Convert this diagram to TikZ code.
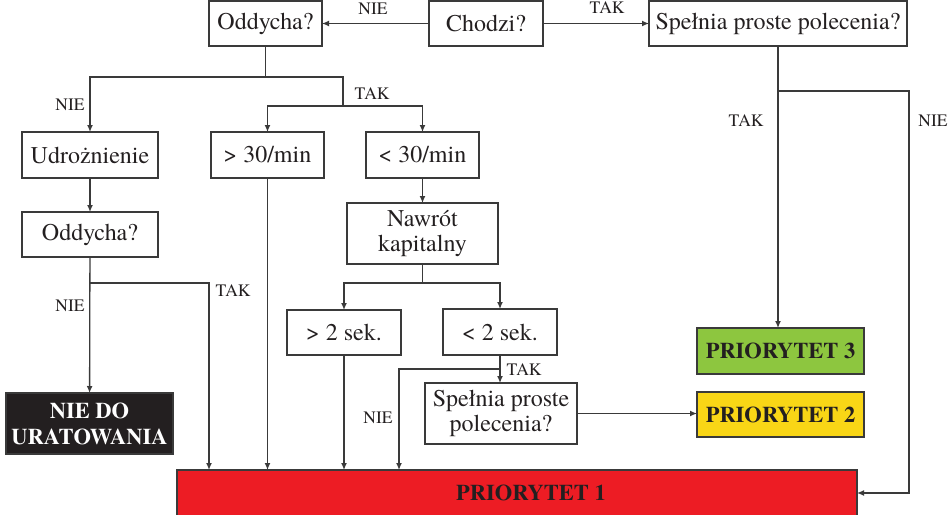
\documentclass[tikz,border=0pt]{standalone}
\usepackage{fontspec}
\setmainfont{texgyretermes}[Extension=.otf, UprightFont=*-regular, BoldFont=*-bold, ItalicFont=*-italic, BoldItalicFont=*-bolditalic]
\usetikzlibrary{arrows.meta}
\definecolor{ink}{HTML}{231F20}
\definecolor{wire}{HTML}{3A3A3A}
\definecolor{prio1}{HTML}{ED1C24}
\definecolor{prio2}{HTML}{F9D616}
\definecolor{prio3}{HTML}{8DC63F}
\begin{document}
\begin{tikzpicture}[x=1pt,y=-1pt,
  box/.style={draw=wire, line width=1.4pt, inner sep=0pt, outer sep=0pt,
    text=ink, align=center, font=\fontsize{24}{25}\selectfont},
  prio/.style={box, font=\fontsize{22.5}{26}\selectfont\bfseries},
  tag/.style={text=ink, inner sep=0pt, font=\fontsize{17.5}{18}\selectfont},
  link/.style={draw=wire, line width=1.3pt},
  arrow/.style={link, -{Latex[length=7pt,width=6pt]}},
]
\clip (0,0) rectangle (950,514);
\useasboundingbox (0,0) rectangle (950,514);

% --- top row
\node[box, minimum width=113pt, minimum height=45pt] (odd1) at (265.5,23.5) {Oddycha?};
\node[box, minimum width=114pt, minimum height=45pt] (walk) at (486,23.5) {Chodzi?};
\node[box, minimum width=258pt, minimum height=45pt] (cmd1) at (778,23.5) {Spełnia proste polecenia?};

% --- breathing branch
\node[box, minimum width=136pt, minimum height=46pt] (airway) at (90,155) {Udrożnienie};
\node[box, minimum width=113pt, minimum height=46pt] (fast) at (267.5,155) {> 30/min};
\node[box, minimum width=113pt, minimum height=46pt] (slow) at (422.5,155) {< 30/min};
\node[box, minimum width=136pt, minimum height=45pt] (odd2) at (90,234.5) {Oddycha?};
\node[box, minimum width=151pt, minimum height=61pt] (refill) at (422.5,233.5) {Nawrót\\kapitalny};
\node[box, minimum width=114pt, minimum height=45pt] (gt2) at (344,332.5) {> 2 sek.};
\node[box, minimum width=114pt, minimum height=46pt] (lt2) at (500,332) {< 2 sek.};
\node[box, minimum width=152pt, minimum height=61pt] (cmd2) at (501,413.5) {Spełnia proste\\polecenia?};

% --- outcomes
\node[prio, fill=ink, text=white, minimum width=167pt, minimum height=61pt] (dead) at (89.5,423.5) {NIE DO\\URATOWANIA};
\node[prio, fill=prio3, minimum width=167pt, minimum height=46pt] (p3) at (780.5,351) {PRIORYTET 3};
\node[prio, fill=prio2, minimum width=167pt, minimum height=45pt] (p2) at (780.5,414.5) {PRIORYTET 2};
\node[prio, fill=prio1, minimum width=680pt, minimum height=46pt] (p1) at (517,493) {};
\node[prio, draw=none] (p1text) at (531,493) {PRIORYTET 1};

% --- junctions and entry points on PRIORYTET 1
\coordinate (j1) at (265.5,77);
\coordinate (j2) at (343,106);
\coordinate (j3) at (90,283);
\coordinate (j4) at (422.5,283);
\coordinate (j5) at (500,369);
\coordinate (j6) at (778,91);
\coordinate (r1) at (909,91);
\coordinate (in1) at (209,470);
\coordinate (in4) at (399,470);

% --- connectors
\draw[arrow] (walk) -- (odd1);
\draw[arrow] (walk) -- (cmd1);

\draw[link] (odd1.south) -- (j1);
\draw[arrow] (j1) -| (airway.north);
\draw[link] (j1) -| (j2);
\draw[arrow] (j2) -| (fast.north);
\draw[arrow] (j2) -| (slow.north);

\draw[arrow] (airway) -- (odd2);
\draw[arrow] (odd2) -- (dead);
\draw[arrow] (j3) -| (in1);

\draw[arrow] (fast.south) -- (fast.south |- p1.north);
\draw[arrow] (slow) -- (refill);
\draw[link] (refill.south) -- (j4);
\draw[arrow] (j4) -| (gt2.north);
\draw[arrow] (j4) -| (lt2.north);
\draw[arrow] (gt2.south) -- (gt2.south |- p1.north);
\draw[arrow] (lt2.south) -- (lt2.south |- cmd2.north);
\draw[arrow] (j5) -| (in4);
\draw[arrow] (cmd2.east) -- (cmd2.east -| p2.west);

\draw[arrow] (cmd1.south) -- (cmd1.south |- p3.north);
\draw[arrow] (j6) -- (r1) |- (p1.east);

% --- branch labels
\node[tag] at (373,9) {NIE};
\node[tag] at (607,8) {TAK};
\node[tag] at (70,105) {NIE};
\node[tag] at (372,94) {TAK};
\node[tag] at (70,306) {NIE};
\node[tag] at (233,291) {TAK};
\node[tag] at (524,370) {TAK};
\node[tag] at (378,418) {NIE};
\node[tag] at (746,121) {TAK};
\node[tag] at (933,121) {NIE};
\end{tikzpicture}
\end{document}
